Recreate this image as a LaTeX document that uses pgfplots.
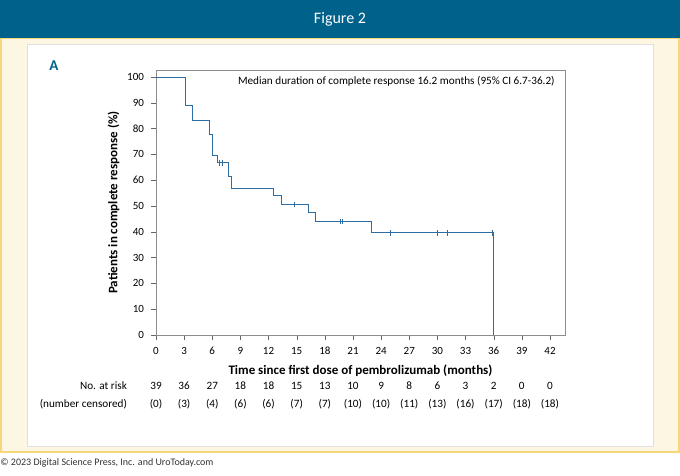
\documentclass[border=0pt]{standalone}
\usepackage{pgfplots}
\pgfplotsset{compat=1.18}
\usepackage{fontspec}
\setmainfont{Carlito}
\definecolor{hdr}{HTML}{00628B}
\definecolor{cream}{HTML}{FDF6E3}
\definecolor{edge}{HTML}{F6D77A}
\definecolor{km}{HTML}{2E6DA4}
\begin{document}
\begin{tikzpicture}[x=0.5pt,y=-0.5pt]
\fill[white] (0,0) rectangle (680,476);
\fill[cream,draw=edge,line width=1pt] (1,38) rectangle (679,452);
\fill[hdr] (0,0) rectangle (680,38);
\node[white,font=\fontsize{8}{9}\selectfont] at (340,19) {Figure 2};
\fill[white,draw=black!12] (27,44) rectangle (653,446);
\node[anchor=south west,font=\fontsize{5}{6}\selectfont,text=black!80,inner sep=0] at (0,468) {© 2023 Digital Science Press, Inc. and UroToday.com};
\node[hdr,font=\bfseries\fontsize{7.5}{8}\selectfont] at (54,66) {A};
\coordinate (O) at (156,335);
\begin{axis}[at={(O)},anchor=south west,scale only axis,width=204.5pt,height=132.5pt,
 xmin=0,xmax=43.6,ymin=0,ymax=102.7,
 xtick={0,3,...,42},ytick={0,10,...,100},
 xtick pos=bottom,ytick pos=left,
 tick align=outside,axis line style={black!45},tick style={black!60},
 major tick length=2.5pt,
 ticklabel style={font=\fontsize{5.5}{6}\selectfont},
 /pgf/number format/assume math mode=true,
 xlabel={\bfseries Time since first dose of pembrolizumab (months)},
 ylabel={\bfseries Patients in complete response (\%)},
 label style={font=\fontsize{6.5}{7}\selectfont},
 xlabel shift=-2pt, ylabel shift=-3pt,
 clip=false]
\addplot[km,line width=0.45pt,const plot] coordinates {
(0,100)(3.1,100)(3.1,88.9)(3.9,88.9)(3.9,83.3)(5.7,83.3)(5.7,77.8)(6.0,77.8)(6.0,69.4)(6.6,69.4)(6.6,66.7)(7.7,66.7)(7.7,61.5)(8.0,61.5)(8.0,56.8)(12.5,56.8)(12.5,53.9)(13.4,53.9)(13.4,50.6)(16.3,50.6)(16.3,47.4)(17.0,47.4)(17.0,44.0)(23.0,44.0)(23.0,39.6)(36.0,39.6)(36.0,0)};
\addplot[km,only marks,mark=|,mark size=1.4pt,line width=0.3pt] coordinates {
(6.8,66.7)(7.1,66.7)(14.7,50.6)(19.6,44.0)(19.9,44.0)(25,39.6)(30,39.6)(31,39.6)(35.8,39.6)};
\node[anchor=west,font=\fontsize{5.6}{7}\selectfont,inner sep=0] at (axis cs:8.7,98.3) {Median duration of complete response 16.2 months (95\% CI 6.7-36.2)};
\end{axis}
\begin{scope}[font=\fontsize{5.6}{7}\selectfont]
\node[anchor=east] at (134,386) {No. at risk};
\node[anchor=east] at (134,404) {(number censored)};
\foreach \m/\r/\c in {0/39/0,3/36/3,6/27/4,9/18/6,12/18/6,15/15/7,18/13/7,21/10/10,24/9/10,27/8/11,30/6/13,33/3/16,36/2/17,39/0/18,42/0/18}{
 \node at ({156+\m*9.38},386) {\r};
 \node at ({156+\m*9.38},404) {(\c)};
}
\end{scope}
\end{tikzpicture}
\end{document}
